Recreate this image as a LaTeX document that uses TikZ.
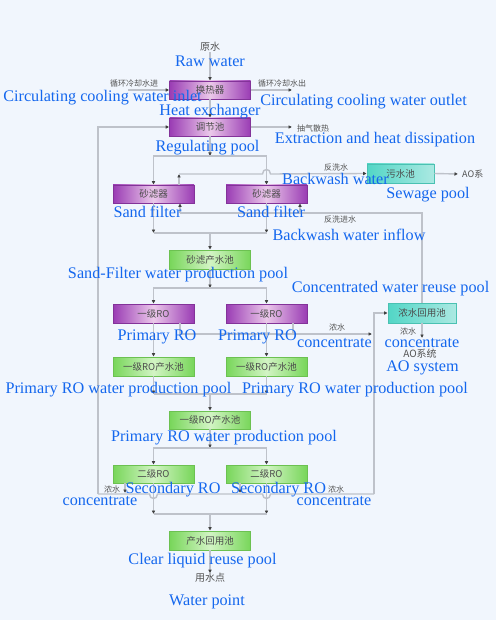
\documentclass[tikz,border=0pt]{standalone}
\usepackage{fontspec}
\setmainfont{Liberation Serif}
\newfontfamily\cjk{Noto Sans CJK SC}
\usetikzlibrary{arrows.meta,calc}
\definecolor{bgcol}{HTML}{F1F6FD}
\definecolor{pdark}{HTML}{9A3CB4}
\definecolor{plight}{HTML}{EBC8EA}
\definecolor{gdark}{HTML}{78D65A}
\definecolor{glight}{HTML}{D2F4C4}
\definecolor{tdark}{HTML}{52D6C6}
\definecolor{tlight}{HTML}{ABE9E2}
\definecolor{lblcol}{HTML}{1467EE}
\definecolor{lncol}{HTML}{BEC2CA}
\begin{document}
\begin{tikzpicture}[x=1pt,y=-1pt,
  box/.style={minimum width=81pt,minimum height=18pt,inner sep=0pt,line width=0.6pt,
    font=\cjk\fontsize{9.5}{10}\selectfont,text=black!70},
  pbox/.style={box,left color=pdark,right color=pdark,middle color=plight,draw=pdark!85!black},
  gbox/.style={box,left color=gdark,right color=gdark,middle color=glight,draw=gdark!90!black},
  tbox/.style={box,left color=tdark,right color=tlight,draw=tdark!90!black},
  en/.style={font=\fontsize{16.2}{18}\selectfont,text=lblcol,inner sep=0pt,anchor=base},
  cn/.style={font=\cjk\fontsize{8}{9}\selectfont,text=black!68,inner sep=0pt},
  cnb/.style={font=\cjk\fontsize{10}{11}\selectfont,text=black!68,inner sep=0pt},
  conn/.style={draw=lncol,line width=1.4pt},
  arr/.style={conn,-{Latex[length=3.5pt,width=3.8pt,color=black!75]}},
]
\fill[bgcol] (0,0) rectangle (496,620);
\useasboundingbox (0,0) rectangle (496,620);

% boxes
\node[pbox] (hx) at (210,90) {换热器};
\node[pbox] (reg) at (210,127) {调节池};
\node[pbox] (sf1) at (153.5,194) {砂滤器};
\node[pbox] (sf2) at (266.5,194) {砂滤器};
\node[tbox,minimum width=67pt,minimum height=19pt] (sew) at (400.5,173.5) {污水池};
\node[gbox,minimum height=19pt] (sfp) at (210,259.5) {砂滤产水池};
\node[pbox,minimum height=19pt] (ro1) at (153.5,313.5) {一级RO};
\node[pbox,minimum height=19pt] (ro2) at (266.5,313.5) {一级RO};
\node[tbox,minimum width=68pt,minimum height=20pt] (cr) at (422,313) {浓水回用池};
\node[gbox,minimum height=19pt] (rp1) at (153.5,366.5) {一级RO产水池};
\node[gbox,minimum height=19pt] (rp2) at (266.5,366.5) {一级RO产水池};
\node[gbox] (rpm) at (210,420) {一级RO产水池};
\node[gbox] (sr1) at (153.5,474) {二级RO};
\node[gbox] (sr2) at (266.5,474) {二级RO};
\node[gbox,minimum height=19pt] (clr) at (210,540.5) {产水回用池};

% chinese small labels
\node[cnb] (raw) at (210,47) {原水};
\node[cn] (tcin) at (134,83) {循环冷却水进};
\node[cn] (tcout) at (282,83) {循环冷却水出};
\node[cn,anchor=west] (tgas) at (297,128) {抽气散热};
\node[cn] (tbw) at (336,167) {反洗水};
\node[cn] (tbwi) at (340,219) {反洗进水};
\node[cn,font=\cjk\fontsize{9}{10}\selectfont,anchor=west] (tao1) at (462,174) {AO系};
\node[cn] (tc1) at (337,327) {浓水};
\node[cn] (tc2) at (408,331) {浓水};
\node[cnb] (tao2) at (420,354) {AO系统};
\node[cn] (tc3) at (112,489) {浓水};
\node[cn] (tc4) at (336,489) {浓水};
\node[cnb] (use) at (210,578) {用水点};

% coordinates
\coordinate (cin) at (128,90);
\coordinate (cout) at (292,90);
\coordinate (gas) at (292,127);
\coordinate (a1) at (210,156);
\coordinate (bwo) at (179,185);
\coordinate (bwc) at (179,174);
\coordinate (aoe) at (458,174);
\coordinate (bi) at (422,213);
\coordinate (bi1) at (180,213);
\coordinate (bi2) at (300,213);
\coordinate (b1) at (210,233);
\coordinate (b1l) at (153.5,233);
\coordinate (b1r) at (266.5,233);
\coordinate (c1) at (210,288);
\coordinate (k1) at (180,334);
\coordinate (k2) at (293,334);
\coordinate (k3) at (372,334);
\coordinate (d1) at (210,394);
\coordinate (d1l) at (153.5,394);
\coordinate (d1r) at (266.5,394);
\coordinate (e1) at (210,448);
\coordinate (f1) at (210,514);
\coordinate (f1l) at (153.5,514);
\coordinate (f1r) at (266.5,514);
\coordinate (gL) at (98,494);
\coordinate (gR) at (374,494);
\coordinate (s1) at (125,493);
\coordinate (s2) at (240,493);
\coordinate (aoa) at (422,338);

% connectors
\draw[arr] (raw) -- (hx);
\draw[arr] (cin) -- (hx.west);
\draw[arr] (hx.east) -- (cout);
\draw[arr] (hx) -- (reg);
\draw[arr] (reg.east) -- (gas);
\draw[arr] (reg) -- (a1);
\draw[arr] (a1) -| (sf1.north);
\draw[arr] (a1) -| (sf2.north);
\draw[arr] (sf1) -- (b1l);
\draw[arr] (sf2) -- (b1r);
\draw[conn] (b1l) -- (b1r);
\draw[arr] (b1) -- (sfp);
% backwash out
\draw[arr] (bwo) -- (bwc);
\draw[arr] (bwc) -- (262.5,174) .. controls (262.5,168) and (270.5,168) .. (270.5,174) -- (sew.west);
\draw[arr] (sew.east) -- (aoe);
% backwash inflow
\draw[conn] (cr.north) -- (bi) -- (bi1);
\draw[arr] (bi1) -- (bi1 |- sf1.south);
\draw[arr] (bi2) -- (bi2 |- sf2.south);
% RO
\draw[arr] (sfp) -- (c1);
\draw[arr] (c1) -| (ro1.north);
\draw[arr] (c1) -| (ro2.north);
\draw[arr] (ro1) -- (rp1);
\draw[arr] (ro2) -- (rp2);
\draw[arr] (ro1.south -| k1) -- (k1) -- (k3);
\draw[conn] (ro2.south -| k2) -- (k2);
\draw[arr] (rp1) -- (d1l);
\draw[arr] (rp2) -- (d1r);
\draw[conn] (d1l) -- (d1r);
\draw[arr] (d1) -- (rpm);
\draw[arr] (rpm) -- (e1);
\draw[arr] (e1) -| (sr1.north);
\draw[arr] (e1) -| (sr2.north);
\draw[arr] (sr1) -- (f1l);
\draw[arr] (sr2) -- (f1r);
\draw[conn] (f1l) -- (f1r);
\draw[arr] (f1) -- (clr);
\draw[arr] (clr) -- (use);
% secondary concentrate
\draw[conn] (gL) -- (149.5,494) .. controls (149.5,500) and (157.5,500) .. (157.5,494) -- (262.5,494) .. controls (262.5,500) and (270.5,500) .. (270.5,494) -- (gR);
\draw[arr] (gL) -- (gL |- reg.west) -- (reg.west);
\draw[arr] (gR) -- (gR |- cr.west) -- (cr.west);
\draw[arr] (sr1.south -| s1) -- (s1);
\draw[arr] (sr2.south -| s2) -- (s2);
\draw[arr] (cr) -- (aoa);

% english labels
\node[en] at (210,67) {Raw water};
\node[en] at (102.5,102) {Circulating cooling water inlet};
\node[en] at (210,116) {Heat exchanger};
\node[en] at (363.5,106) {Circulating cooling water outlet};
\node[en] at (207.5,152) {Regulating pool};
\node[en] at (375,144) {Extraction and heat dissipation};
\node[en] at (335.5,185) {Backwash water};
\node[en] at (428,199) {Sewage pool};
\node[en] at (147.5,218) {Sand filter};
\node[en] at (271,218) {Sand filter};
\node[en] at (349,240) {Backwash water inflow};
\node[en] at (178,278) {Sand-Filter water production pool};
\node[en] at (390.5,292) {Concentrated water reuse pool};
\node[en] at (157,340) {Primary RO};
\node[en] at (257.5,340) {Primary RO};
\node[en] at (334.5,347) {concentrate};
\node[en] at (422,347) {concentrate};
\node[en] at (422.5,371) {AO system};
\node[en] at (118.5,393) {Primary RO water production pool};
\node[en] at (355,393) {Primary RO water production pool};
\node[en] at (224,441) {Primary RO water production pool};
\node[en] at (173,493) {Secondary RO};
\node[en] at (278.5,493) {Secondary RO};
\node[en] at (100,505) {concentrate};
\node[en] at (334,505) {concentrate};
\node[en] at (202.5,564) {Clear liquid reuse pool};
\node[en] at (207,605) {Water point};
\end{tikzpicture}
\end{document}
